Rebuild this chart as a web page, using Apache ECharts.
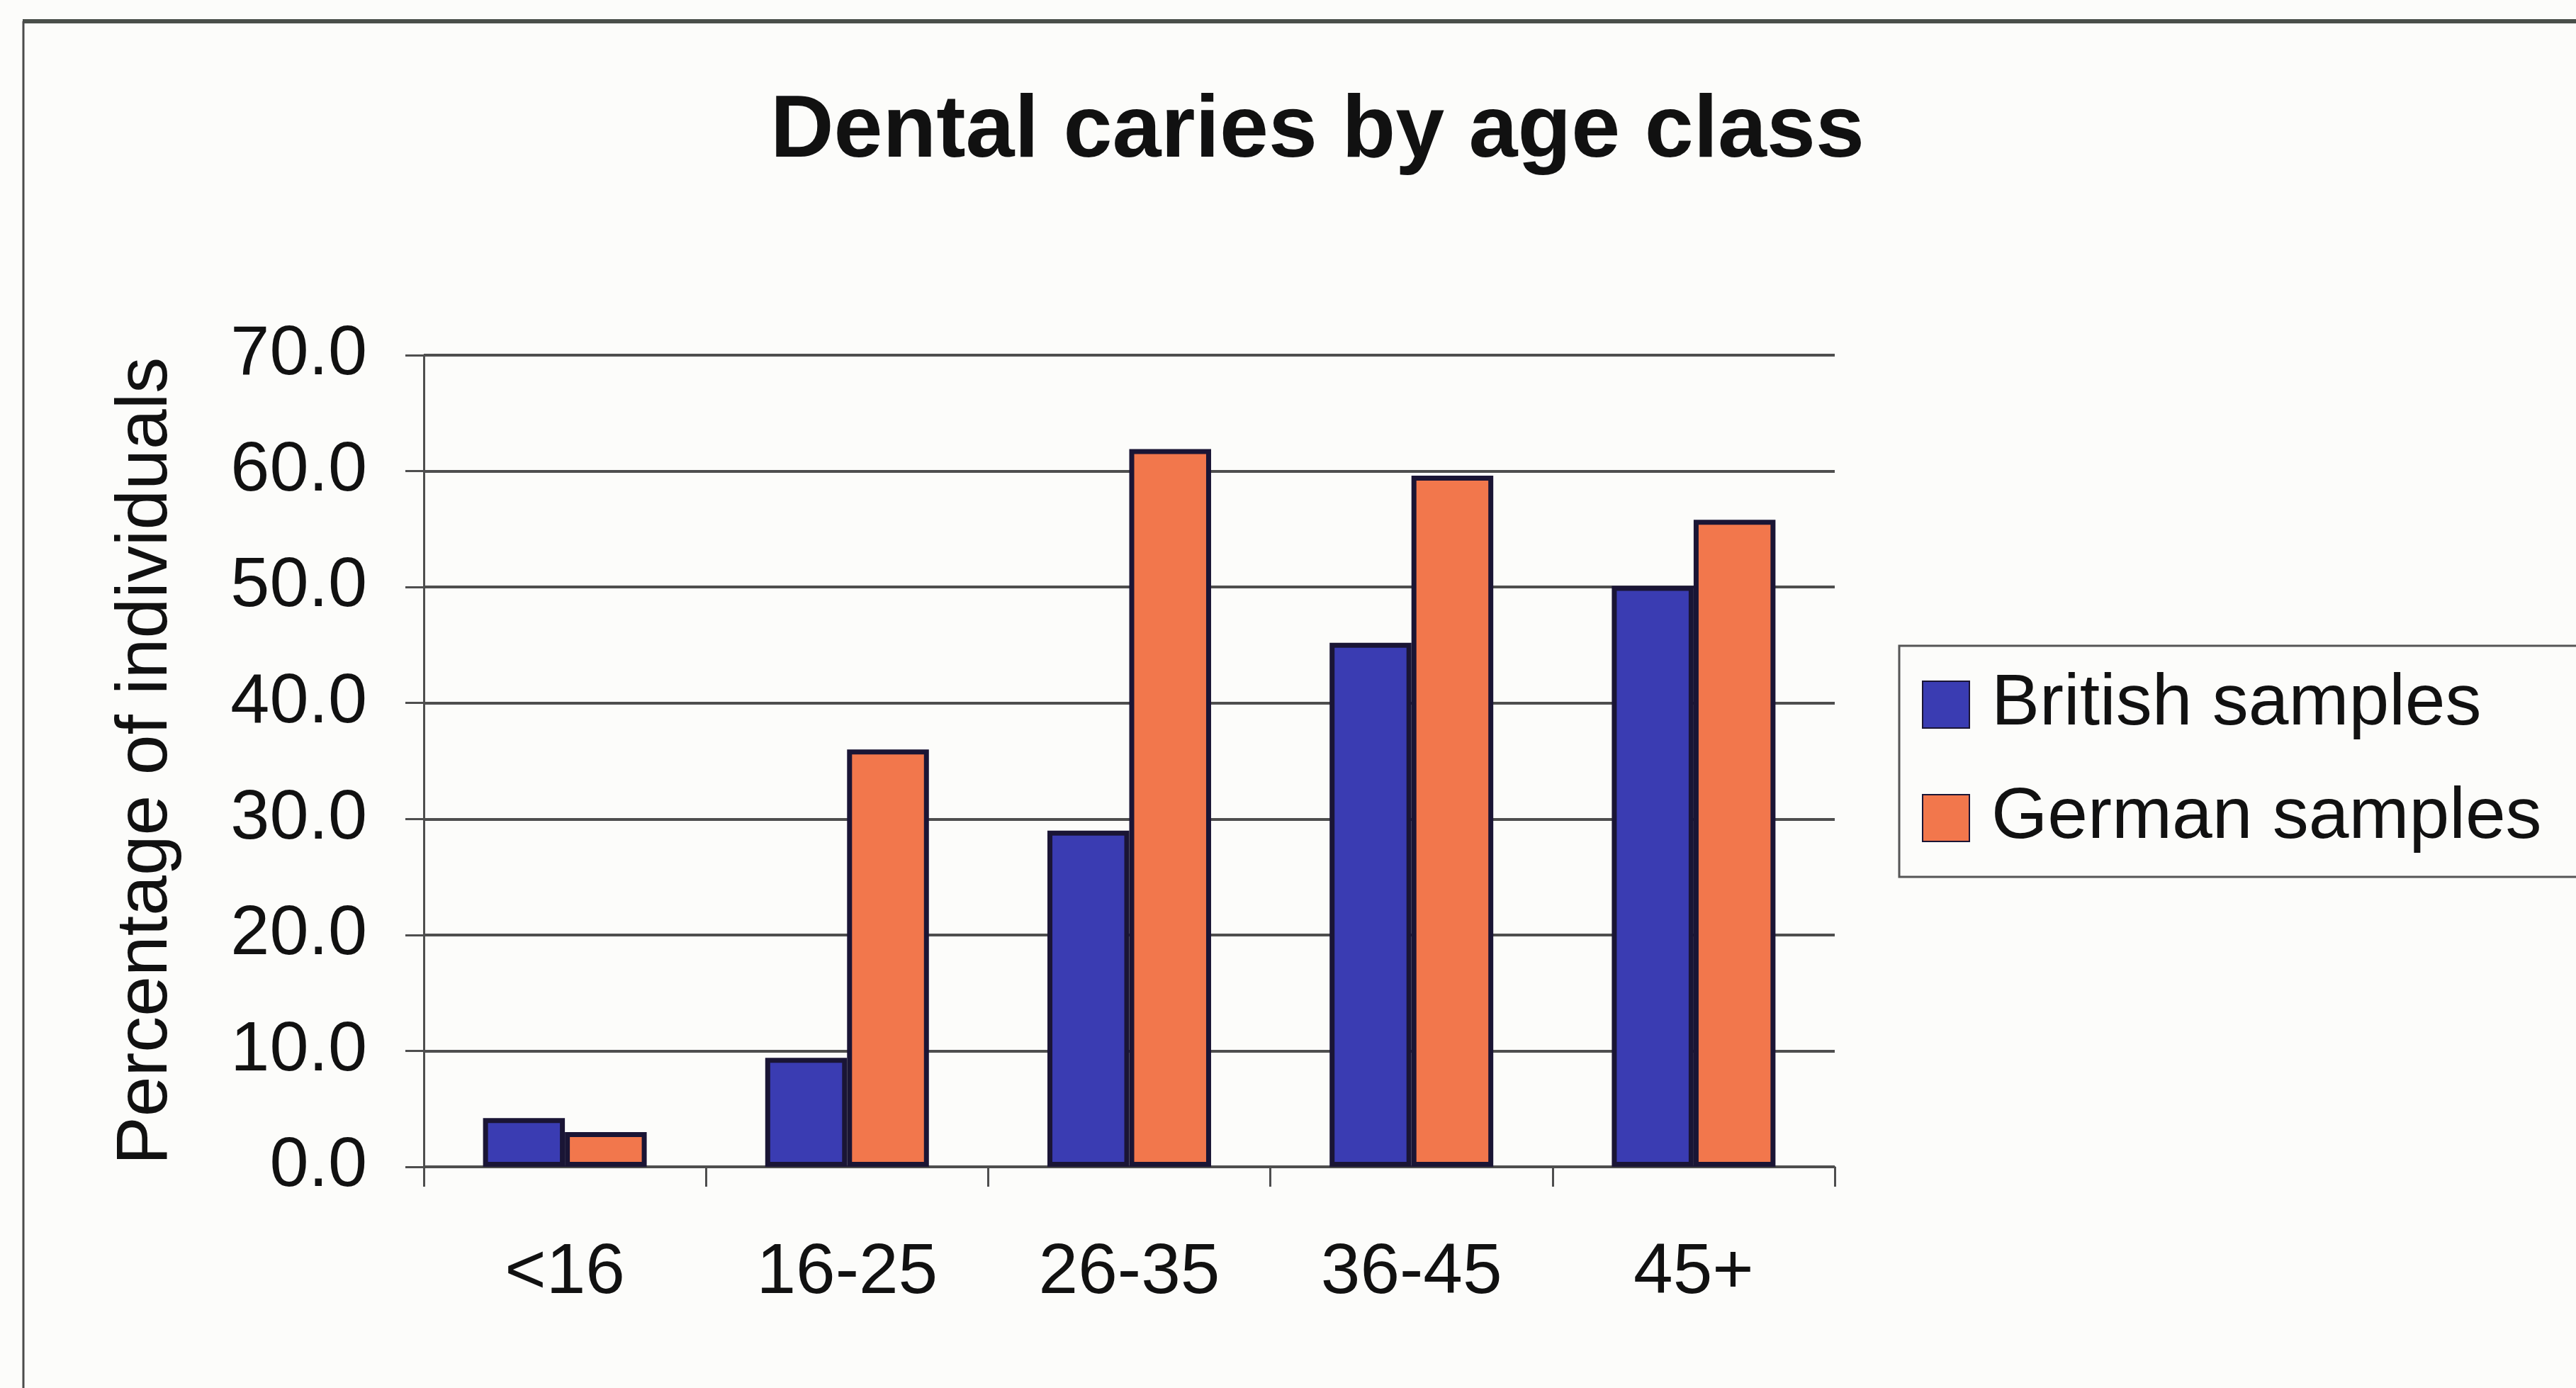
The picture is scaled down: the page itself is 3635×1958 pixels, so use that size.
<!DOCTYPE html>
<html>
<head>
<meta charset="utf-8">
<title>Dental caries by age class</title>
<script src="https://cdn.jsdelivr.net/npm/echarts@6/dist/echarts.min.js"></script>
<style>
  html, body { margin: 0; padding: 0; background: #fcfcfa; }
  #main { width: 3635px; height: 1958px; }
</style>
</head>
<body>
<div id="main"></div>
<script>
// 数据
var categories = ['<16', '16-25', '26-35', '36-45', '45+']
var british = [4.2, 9.4, 29.0, 45.2, 50.1]
var german = [3.0, 36.0, 61.9, 59.6, 55.8]
var seriesNames = ['British samples', 'German samples']
var yTicks = [0, 10, 20, 30, 40, 50, 60, 70]

var fontFamily = '"Liberation Sans", Arial, sans-serif'
var lineColor = '#4e4e4e'

var myChart = echarts.init(document.getElementById('main'))

var option = {
    backgroundColor: '#fcfcfa',
    animation: false,
    title: {
        text: 'Dental caries by age class',
        left: 1082,
        top: 120,
        textStyle: {
            fontFamily: fontFamily,
            fontWeight: 'bold',
            fontSize: 124,
            color: '#111111'
        }
    },
    // 外框
    graphic: [
        { type: 'line', shape: { x1: 32, y1: 30, x2: 3635, y2: 30 }, style: { stroke: '#4a4f4a', lineWidth: 6 } },
        { type: 'line', shape: { x1: 33, y1: 30, x2: 33, y2: 1958 }, style: { stroke: '#4a4a4a', lineWidth: 3 } }
    ],
    legend: {
        orient: 'vertical',
        left: 2680,
        top: 911,
        padding: [32, 120, 32, 32],
        itemGap: 58,
        itemWidth: 66,
        itemHeight: 66,
        icon: 'rect',
        borderColor: '#555555',
        borderWidth: 3,
        data: seriesNames,
        textStyle: {
            fontFamily: fontFamily,
            fontSize: 102,
            color: '#111111',
            padding: [0, 0, 0, 26]
        }
    },
    grid: {
        left: 598,
        right: 3635 - 2589,
        top: 501,
        bottom: 1958 - 1646,
        containLabel: false
    },
    xAxis: [
        {
            type: 'category',
            data: categories,
            axisLine: { show: true, lineStyle: { color: lineColor, width: 3 } },
            axisTick: { show: true, length: 28, lineStyle: { color: lineColor, width: 3 } },
            axisLabel: {
                margin: 100,
                fontFamily: fontFamily,
                fontSize: 100,
                color: '#111111'
            }
        }
    ],
    yAxis: [
        {
            type: 'value',
            min: 0,
            max: 70,
            interval: 10,
            name: 'Percentage of individuals',
            nameLocation: 'middle',
            nameGap: 340,
            nameRotate: 90,
            nameTextStyle: {
                fontFamily: fontFamily,
                fontSize: 102,
                color: '#111111'
            },
            axisLine: { show: true, lineStyle: { color: lineColor, width: 3 } },
            axisTick: { show: true, length: 26, lineStyle: { color: lineColor, width: 3 } },
            splitLine: { show: true, lineStyle: { color: lineColor, width: 4 } },
            axisLabel: {
                margin: 80,
                fontFamily: fontFamily,
                fontSize: 99,
                color: '#111111',
                formatter: function (v) {
                    return yTicks.indexOf(v) >= 0 ? v.toFixed(1) : ''
                }
            }
        }
    ],
    series: [
        {
            name: seriesNames[0],
            type: 'bar',
            data: british,
            barGap: '0%',
            barCategoryGap: '42%',
            itemStyle: { color: '#3a3cb2', borderColor: '#1a1535', borderWidth: 7 }
        },
        {
            name: seriesNames[1],
            type: 'bar',
            data: german,
            itemStyle: { color: '#f2774c', borderColor: '#1a1535', borderWidth: 7 }
        }
    ]
}

myChart.setOption(option)
</script>
</body>
</html>
